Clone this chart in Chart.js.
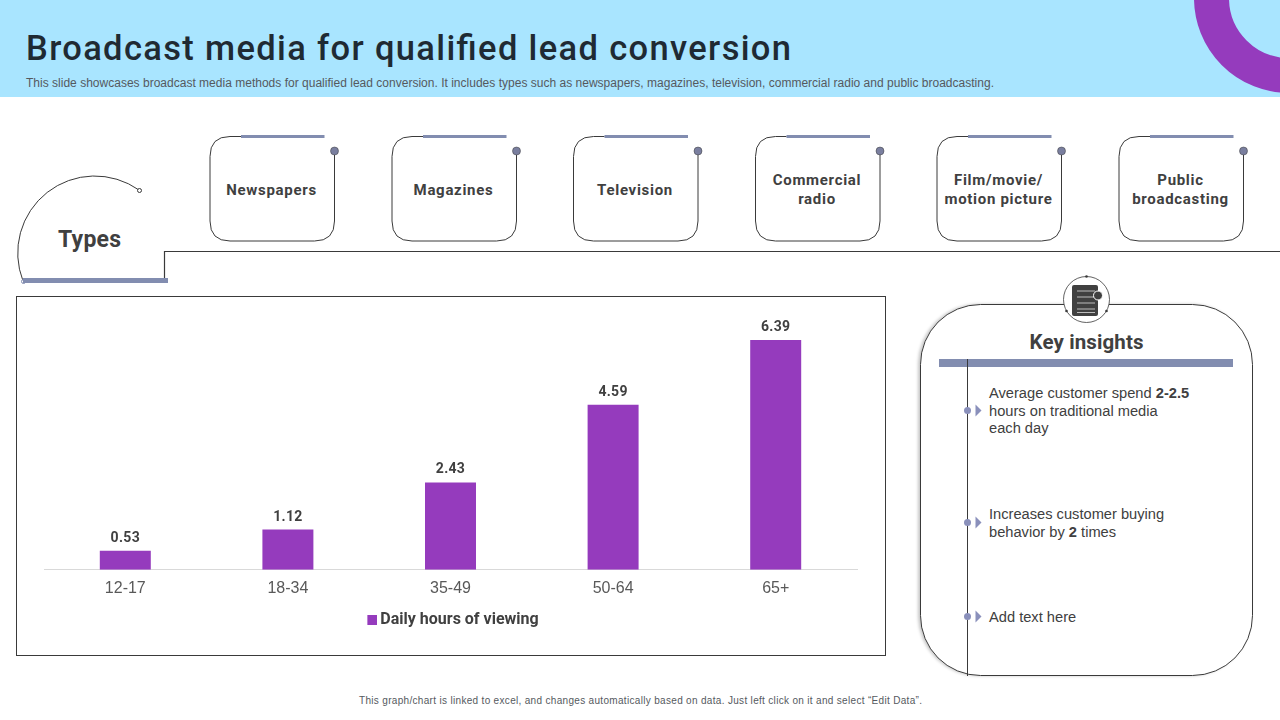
<!DOCTYPE html>
<html><head><meta charset="utf-8">
<style>
html,body{margin:0;padding:0;background:#fff;width:1280px;height:720px;overflow:hidden}
#deco{position:absolute;left:0;top:0}
#wrap{position:absolute;left:16px;top:296px;width:870px;height:360px}
</style>
<script src="https://cdn.jsdelivr.net/npm/chart.js@4"></script>
</head><body>
<svg id="deco" width="1280" height="720" xmlns="http://www.w3.org/2000/svg"></svg>
<div id="wrap"><canvas id="c" width="870" height="360"></canvas></div>
<script>
const categories=["12-17","18-34","35-49","50-64","65+"];
const hours=[0.53,1.12,2.43,4.59,6.39];
const seriesName="Daily hours of viewing";
const titleText="Broadcast media for qualified lead conversion";
const subtitleText="This slide showcases broadcast media methods for qualified lead conversion. It includes types such as newspapers, magazines, television, commercial radio and public broadcasting.";
const footText="This graph/chart is linked to excel, and changes automatically based on data. Just left click on it and select \u201cEdit Data\u201d.";
const cardLabels=[["Newspapers"],["Magazines"],["Television"],["Commercial","radio"],["Film/movie/","motion picture"],["Public","broadcasting"]];
const cardLefts=[210,392,573.5,755.5,937,1119];

const PURPLE="#953bbd", SLATE="#828db0", DARK="#404040", LINE="#3a3a3a";
const DIN="Roboto, 'Liberation Sans', sans-serif", ARIAL="'Liberation Sans', Arial, sans-serif";
let s='';
const text=(x,y,t,size,w,fill,anchor,fam,len,sp)=>`<text x="${x}" y="${y}" font-family="${fam||DIN}" font-size="${size}" font-weight="${w}" fill="${fill}" text-anchor="${anchor||'start'}"${len?` textLength="${len}" lengthAdjust="spacing"`:''}${sp?` letter-spacing="${sp}"`:''}>${t}</text>`;
// header
s+=`<rect x="0" y="0" width="1280" height="97" fill="#a9e5ff"/>`;
s+=`<clipPath id="hc"><rect x="0" y="0" width="1280" height="97"/></clipPath>`;
s+=`<circle cx="1289" cy="-2" r="77.5" fill="none" stroke="${PURPLE}" stroke-width="35" clip-path="url(#hc)"/>`;
s+=text(26,60,titleText,34.5,500,"#1f2a33","start",DIN,765);
s+=text(26,87,subtitleText,12,400,"#55595e","start",ARIAL,968);
// types
s+=`<path d="M139 190 A77 77 0 0 0 23 281" fill="none" stroke="${LINE}" stroke-width="1"/>`;
s+=`<circle cx="139.5" cy="190.5" r="2" fill="#fff" stroke="${LINE}"/>`;
s+=`<circle cx="23.5" cy="281.5" r="2" fill="#fff" stroke="${SLATE}"/>`;
s+=text(58,247,"Types",23,700,DARK,"start",DIN,63);
s+=`<path d="M164.5 280 V251.5 H1280" fill="none" stroke="${LINE}" stroke-width="1.2"/>`;
s+=`<rect x="23" y="278" width="145" height="5" fill="${SLATE}"/>`;
// cards
cardLabels.forEach((lines,i)=>{
  const x=cardLefts[i];
  s+=`<path d="M${x+31} 136.5 H${x+20} Q${x} 136.5 ${x} 156.5 V221 Q${x} 241 ${x+20} 241 H${x+104.5} Q${x+124.5} 241 ${x+124.5} 221 V151" fill="none" stroke="${LINE}" stroke-width="1"/>`;
  s+=`<rect x="${x+31}" y="135" width="83.5" height="3" fill="${SLATE}"/>`;
  s+=`<circle cx="${x+124.5}" cy="151" r="4" fill="#7a7f9f" stroke="${LINE}" stroke-width=".5"/>`;
  const cx=x+61.5, ys=lines.length==1?[195]:[185,204];
  lines.forEach((t,j)=>{s+=text(cx,ys[j],t,15,700,DARK,"middle",DIN,0,0.7)});
});
// frame
s+=`<rect x="16.5" y="296.5" width="869" height="359" fill="none" stroke="${LINE}" stroke-width="1"/>`;
// insights panel
s+=`<rect x="920.5" y="304.5" width="332" height="371" rx="60" fill="#fff" stroke="${LINE}" stroke-width="1" style="filter:drop-shadow(-2px 0 1.5px rgba(0,0,0,.22))"/>`;
s+=`<rect x="939" y="359" width="294" height="8" fill="${SLATE}"/>`;
s+=`<line x1="967.5" y1="359" x2="967.5" y2="676" stroke="${LINE}" stroke-width="1"/>`;
s+=`<circle cx="1086.5" cy="299.5" r="23" fill="#fff" stroke="${LINE}" stroke-width=".8"/>`;
[[1086.5,276.5],[1066.5,311],[1106.5,311]].forEach(p=>{s+=`<circle cx="${p[0]}" cy="${p[1]}" r="1.3" fill="${LINE}"/>`});
s+=`<rect x="1072" y="285" width="26" height="31" rx="2" fill="#404040"/>`;
[291,297,303,309,312.5].forEach(y=>{s+=`<line x1="1077" y1="${y}" x2="1095" y2="${y}" stroke="#ddd" stroke-width=".8"/>`});
s+=`<circle cx="1098" cy="295.5" r="4.5" fill="#404040" stroke="#fff" stroke-width="1"/>`;
s+=text(1086.5,349,"Key insights",20.5,700,DARK,"middle",DIN,114);
[411,523,617].forEach(y=>{
  s+=`<circle cx="967.5" cy="${y-.5}" r="3.5" fill="#8a90bb"/>`;
  s+=`<path d="M975.5 ${y-6.5} L981.5 ${y-.5} L975.5 ${y+5.5} Z" fill="#8a90bb"/>`;
});
const body=(y,html)=>`<text x="989" y="${y}" font-family="${ARIAL}" font-size="14.67" fill="${DARK}">${html}</text>`;
s+=body(398,'Average  customer spend <tspan font-weight="700">2-2.5</tspan>');
s+=body(416,'hours on traditional  media');
s+=body(433,'each day');
s+=body(519,'Increases customer buying');
s+=body(537,'behavior by <tspan font-weight="700">2</tspan> times');
s+=body(622,'Add text here');
s+=text(640.5,704,footText,10,400,"#55595e","middle",ARIAL,563);
document.getElementById('deco').innerHTML=s;

// legend swatch: square sits to the right of centre, close to its label
const swatch=document.createElement('canvas');
swatch.width=20;swatch.height=10;
const sc=swatch.getContext('2d');sc.fillStyle=PURPLE;sc.fillRect(10,0,10,10);

const barLabels={id:'barLabels',afterDatasetsDraw(ch){
  const {ctx}=ch, meta=ch.getDatasetMeta(0);
  ctx.save();ctx.font="700 14px "+DIN;ctx.fillStyle=DARK;ctx.textAlign="center";ctx.textBaseline="alphabetic";
  ctx.letterSpacing="0.3px";
  meta.data.forEach((b,i)=>ctx.fillText(hours[i].toFixed(2),b.x,b.y-9));
  ctx.restore();
}};
new Chart(document.getElementById('c'),{
  type:'bar',
  data:{labels:categories,datasets:[{label:seriesName,data:hours,backgroundColor:PURPLE,borderWidth:0,barPercentage:0.3136,categoryPercentage:1}]},
  options:{
    responsive:false,animation:false,devicePixelRatio:1,
    layout:{padding:{left:28,right:29,top:22,bottom:18}},
    scales:{
      x:{grid:{display:false,drawTicks:false},border:{color:"#d9d9d9",width:1},
         ticks:{color:"#595959",font:{family:ARIAL,size:16},padding:9,maxRotation:0}},
      y:{display:false,min:0,max:7}
    },
    plugins:{
      tooltip:{enabled:false},
      legend:{position:'bottom',labels:{usePointStyle:true,pointStyle:swatch,boxWidth:10,boxHeight:10,padding:5,color:DARK,font:{family:DIN,size:16,weight:'700'}}}
    }
  },
  plugins:[barLabels]
});
</script>
</body></html>
